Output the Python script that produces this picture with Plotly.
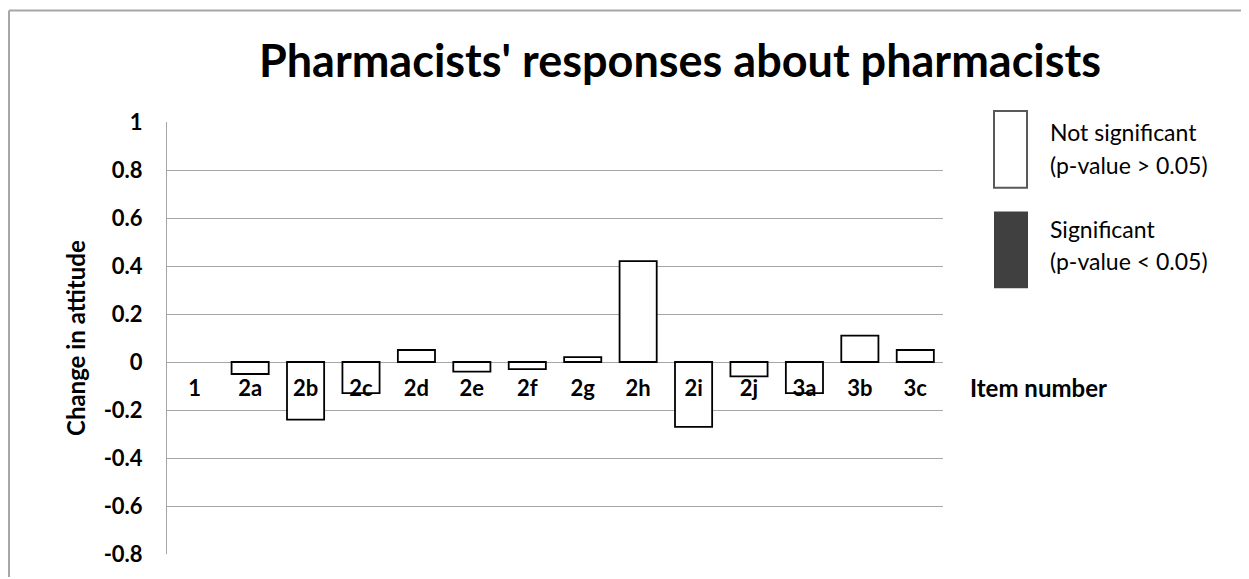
import plotly.graph_objects as go

# ---- data ----
items = ["1", "2a", "2b", "2c", "2d", "2e", "2f", "2g", "2h", "2i", "2j", "3a", "3b", "3c"]
change = [0.0, -0.05, -0.24, -0.13, 0.05, -0.04, -0.03, 0.02, 0.42, -0.27, -0.06, -0.13, 0.11, 0.05]
significant = [False] * 14
y_ticks = [1, 0.8, 0.6, 0.4, 0.2, 0, -0.2, -0.4, -0.6, -0.8]
y_tick_labels = ["1", "0.8", "0.6", "0.4", "0.2", "0", "-0.2", "-0.4", "-0.6", "-0.8"]
y_range = [-0.8, 1.0]

title_text = "Pharmacists' responses about pharmacists"
legend_labels = [("Not significant", "(p-value > 0.05)"), ("Significant", "(p-value < 0.05)")]

# ---- layout geometry (page pixels; the figure sits inside the page's 8px body margin) ----
PAGE_W, PAGE_H = 1249, 579
OFF = 8  # default body margin of the page
W, H = PAGE_W - OFF, PAGE_H - OFF  # figure size so the page does not overflow
PL, PR, PT, PB = 167 - OFF, 943 - OFF, 122 - OFF, 556 - OFF
FONT = "Lato"
GRID = "#a6a6a6"


def px_x(px):
    return (px - OFF - PL) / (PR - PL)


def px_y(py):
    return (PB - (py - OFF)) / (PB - PT)


ns_vals = [v if not s else None for v, s in zip(change, significant)]
sig_vals = [v if s else None for v, s in zip(change, significant)]
ns_line = [1.8 if (v is not None and v != 0) else 0 for v in ns_vals]

fig = go.Figure()
fig.add_trace(go.Bar(
    x=items, y=ns_vals, name="Not significant (p-value > 0.05)",
    marker=dict(color="white", line=dict(color="black", width=ns_line)),
    showlegend=False,
))
fig.add_trace(go.Bar(
    x=items, y=sig_vals, name="Significant (p-value < 0.05)",
    marker=dict(color="#404040", line=dict(color="#404040", width=1.8)),
    showlegend=False,
))

zero_pos = (0 - y_range[0]) / (y_range[1] - y_range[0])

fig.update_layout(
    width=W, height=H,
    margin=dict(l=PL, r=W - PR, t=PT, b=H - PB, pad=0),
    paper_bgcolor="white", plot_bgcolor="white",
    barmode="overlay", bargap=0.33,
    font=dict(family=FONT, color="black"),
    xaxis=dict(
        type="category", anchor="free", position=zero_pos,
        showline=False, showgrid=False, zeroline=False,
        ticks="outside", ticklen=7, tickcolor="rgba(0,0,0,0)",
        tickfont=dict(family=FONT, size=22, weight="bold", color="black"),
        range=[-0.5, len(items) - 0.5],
    ),
    yaxis=dict(
        range=y_range, tickvals=y_ticks, ticktext=y_tick_labels,
        showgrid=True, gridcolor=GRID, gridwidth=1,
        zeroline=True, zerolinecolor=GRID, zerolinewidth=1,
        showline=True, linecolor=GRID, linewidth=1,
        ticks="", ticklabelstandoff=19,
        tickfont=dict(family=FONT, size=22, weight="bold", color="black"),
    ),
    title=dict(
        text=title_text, x=(680 - OFF) / W, xanchor="center",
        y=1 - (61 - OFF) / H, yanchor="middle",
        font=dict(family=FONT, size=45, weight="bold", color="black"),
    ),
)

# outer chart border: top and left edges only (right/bottom lie outside the picture)
fig.add_shape(type="line", xref="paper", yref="paper",
              x0=px_x(OFF + 1), x1=px_x(PAGE_W), y0=px_y(10), y1=px_y(10),
              line=dict(color=GRID, width=2), layer="below")
fig.add_shape(type="line", xref="paper", yref="paper",
              x0=px_x(OFF + 1), x1=px_x(OFF + 1), y0=px_y(10), y1=px_y(PAGE_H),
              line=dict(color=GRID, width=2), layer="below")

# legend swatches
fig.add_shape(type="rect", xref="paper", yref="paper",
              x0=px_x(994), x1=px_x(1027), y0=px_y(111), y1=px_y(188),
              line=dict(color="#595959", width=2), fillcolor="white")
fig.add_shape(type="rect", xref="paper", yref="paper",
              x0=px_x(994), x1=px_x(1028), y0=px_y(212), y1=px_y(289),
              line=dict(color="#404040", width=0), fillcolor="#404040")

legend_y = [(132, 165), (229, 262)]
for (l1, l2), (y1, y2) in zip(legend_labels, legend_y):
    for txt, yy in ((l1, y1), (l2, y2)):
        fig.add_annotation(text=txt, xref="paper", yref="paper",
                           x=px_x(1048), y=px_y(yy), xanchor="left", yanchor="middle",
                           showarrow=False, font=dict(family=FONT, size=23, color="black"))

# axis titles
fig.add_annotation(text="Item number", xref="paper", yref="paper",
                   x=px_x(968), y=px_y(389), xanchor="left", yanchor="middle",
                   showarrow=False, font=dict(family=FONT, size=24, weight="bold", color="black"))
fig.add_annotation(text="Change in attitude", xref="paper", yref="paper",
                   x=px_x(75), y=px_y(339), xanchor="center", yanchor="middle",
                   textangle=-90, showarrow=False,
                   font=dict(family=FONT, size=24, weight="bold", color="black"))

fig.write_html("out.html")
